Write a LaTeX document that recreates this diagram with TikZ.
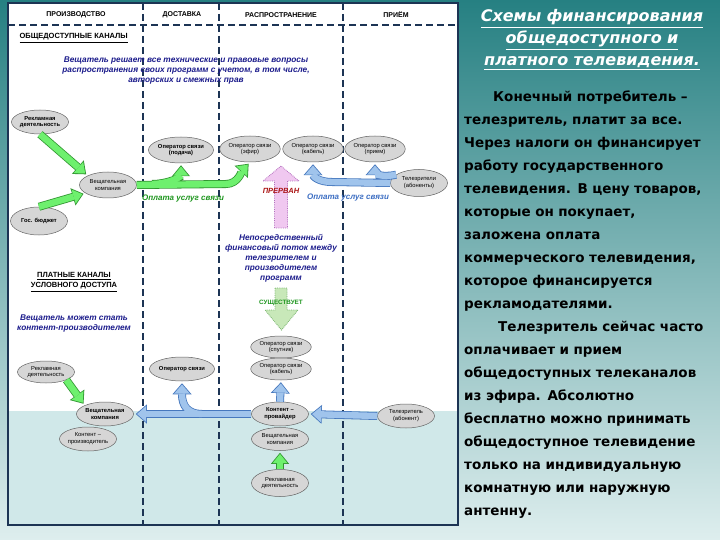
\documentclass[tikz,border=0pt]{standalone}
\usepackage{fontspec}
\setmainfont{Liberation Sans}
\newfontfamily\djv{DejaVu Sans}
\usetikzlibrary{arrows.meta,shapes.geometric,positioning}

\definecolor{frameblue}{RGB}{28,52,84}
\definecolor{ovalfill}{RGB}{214,214,214}
\definecolor{ovaldraw}{RGB}{100,100,100}
\definecolor{grnfill}{RGB}{110,240,110}
\definecolor{grndraw}{RGB}{50,150,50}
\definecolor{bluefill}{RGB}{160,196,236}
\definecolor{bluedraw}{RGB}{70,120,190}
\definecolor{navytext}{RGB}{28,28,140}
\definecolor{grntext}{RGB}{30,150,30}
\definecolor{bluetext}{RGB}{60,110,195}
\definecolor{redtext}{RGB}{170,20,20}
\definecolor{pinkfill}{RGB}{240,200,240}
\definecolor{pinkdraw}{RGB}{180,110,190}
\definecolor{lgfill}{RGB}{200,232,185}
\definecolor{lgdraw}{RGB}{120,180,110}
\definecolor{bandfill}{RGB}{208,232,233}
\definecolor{bgtop}{RGB}{38,128,130}
\definecolor{bgbot}{RGB}{222,238,238}

\newcommand\fullline[1]{\makebox[244pt][s]{#1}}

\tikzset{
  oval/.style={ellipse, draw=ovaldraw, fill=ovalfill, line width=0.5pt,
    minimum width=57pt, minimum height=24pt, inner sep=0pt, align=center,
    font=\fontsize{5.8}{6.8}\selectfont},
  boval/.style={oval, font=\bfseries\fontsize{5.8}{6.8}\selectfont},
  hdr/.style={font=\bfseries\fontsize{7}{8}\selectfont},
  sect/.style={align=center, font=\bfseries\fontsize{7.5}{10}\selectfont},
  note/.style={align=center, text=navytext,
    font=\bfseries\itshape\fontsize{8.3}{10}\selectfont},
  pay/.style={font=\bfseries\itshape\fontsize{8}{9}\selectfont},
  colline/.style={draw=frameblue, line width=1.1pt, dash pattern=on 7pt off 4pt},
  gout/.style={line width=8pt, draw=grndraw, shorten >=2pt,
    -{Triangle[width=18pt,length=11pt,line width=0pt]}},
  gin/.style={line width=6.4pt, draw=grnfill, shorten >=3.3pt,
    -{Triangle[width=14.7pt,length=9pt,line width=0pt]}},
  bout/.style={line width=8pt, draw=bluedraw, shorten >=2pt,
    -{Triangle[width=19pt,length=11pt,line width=0pt]}},
  bin/.style={line width=6.4pt, draw=bluefill, shorten >=3.3pt,
    -{Triangle[width=15.7pt,length=9pt,line width=0pt]}}
}

\begin{document}
\begin{tikzpicture}[x=1pt,y=-1pt]
  \useasboundingbox (0,0) rectangle (720,540);
  \shade[top color=bgtop, bottom color=bgbot] (0,0) rectangle (720,540);

  % diagram frame
  \fill[white] (8,3) rectangle (458,411);
  \fill[bandfill] (8,411) rectangle (458,525);
  \draw[colline] (8,25) -- (458,25);
  \draw[colline] (143,3) -- (143,525);
  \draw[colline] (219,3) -- (219,525);
  \draw[colline] (343,3) -- (343,525);
  \draw[frameblue, line width=1.6pt] (8,3) rectangle (458,525);

  \node[hdr] (prod) at (76,15) {ПРОИЗВОДСТВО};
  \node[hdr] (deliv) at (182,15) {ДОСТАВКА};
  \node[hdr] (distr) at (281,15) {РАСПРОСТРАНЕНИЕ};
  \node[hdr] (recv) at (396,15) {ПРИЁМ};

  \node[sect, anchor=west] (free) at (16,38) {\underline{ОБЩЕДОСТУПНЫЕ КАНАЛЫ}};
  \node[note] (notefree) at (186,71) {Вещатель решает все технические и правовые вопросы\\
    распространения своих программ с учетом, в том числе,\\авторских и смежных прав};

  % public channels
  \node[boval] (rek1) at (40,122) {Рекламная\\деятельность};
  \node[oval, minimum height=26pt] (vesh1) at (108,185) {Вещательная\\компания};
  \node[boval, minimum height=28pt] (budget) at (39,221) {Гос. бюджет};
  \node[boval, minimum height=26pt] (opPod) at (181,150) {Оператор связи\\(подача)};
  \node[oval, minimum height=26pt] (opEf) at (250,149) {Оператор связи\\(эфир)};
  \node[oval, minimum height=26pt] (opKab) at (313,149) {Оператор связи\\(кабель)};
  \node[oval, minimum height=26pt, minimum width=59pt] (opPri) at (375,149) {Оператор связи\\(прием)};
  \node[oval, minimum height=27pt] (zriteli) at (419,183) {Телезрители\\(абоненты)};

  \node[pay, text=grntext] (payGreen) at (183,199) {Оплата услуг связи};
  \node[pay, text=bluetext] (payBlue) at (348,198) {Оплата услуг связи};

  \coordinate (gfork) at (152,184);
  \draw[gout] (rek1.south) -- (vesh1.north west);
  \draw[gout] (budget.north) -- (vesh1.200);
  \draw[gout] (gfork) .. controls (168,184) and (181,177) .. (opPod.south);
  \draw[gout] (vesh1.east) -- (226,184) .. controls (238,184) and (242,171) .. (opEf.south);
  \draw[gin] (rek1.south) -- (vesh1.north west);
  \draw[gin] (budget.north) -- (vesh1.200);
  \draw[gin] (gfork) .. controls (168,184) and (181,177) .. (opPod.south);
  \draw[gin] (vesh1.east) -- (226,184) .. controls (238,184) and (242,171) .. (opEf.south);

  \draw[bout] (zriteli.west) -- (332,182) .. controls (318,182) and (313,176) .. (opKab.south);
  \draw[bout] (zriteli.160) .. controls (381,178) and (375,173) .. (opPri.south);
  \draw[bin] (zriteli.west) -- (332,182) .. controls (318,182) and (313,176) .. (opKab.south);
  \draw[bin] (zriteli.160) .. controls (381,178) and (375,173) .. (opPri.south);

  % interrupted flow
  \draw[pinkdraw, fill=pinkfill, densely dotted, line width=0.8pt]
    (274.5,228) -- (274.5,181) -- (263,181) -- (281,166) -- (299,181)
    -- (287.5,181) -- (287.5,228) -- cycle;
  \node[font=\bfseries\itshape\fontsize{7.5}{9}\selectfont, text=redtext] (cut) at (281,191) {ПРЕРВАН};
  \node[note] (notedirect) at (281,258) {Непосредственный\\финансовый поток между\\телезрителем и\\производителем\\программ};

  \draw[lgdraw, fill=lgfill, densely dotted, line width=0.8pt]
    (275,288) -- (275,310) -- (265,310) -- (281.5,330) -- (298,310)
    -- (287,310) -- (287,288) -- cycle;
  \node[font=\bfseries\fontsize{6.3}{8}\selectfont, text=grntext] (exists) at (281,303) {СУЩЕСТВУЕТ};

  % pay channels
  \node[sect] (paid) at (74,282) {\underline{ПЛАТНЫЕ КАНАЛЫ}\\\underline{УСЛОВНОГО ДОСТУПА}};
  \node[note] (notepaid) at (74,324) {Вещатель может стать\\контент-производителем};

  \node[oval, minimum height=22pt] (opSput) at (281,347) {Оператор связи\\(спутник)};
  \node[oval, minimum height=22pt] (opKab2) at (281,369) {Оператор связи\\(кабель)};
  \node[boval] (opSv) at (182,369) {Оператор связи};
  \node[oval, minimum height=22pt] (rek2) at (46,372) {Рекламная\\деятельность};
  \node[boval] (vesh2) at (105,414) {Вещательная\\компания};
  \node[oval] (kprod) at (88,439) {Контент –\\производитель};
  \node[boval] (kprov) at (280,414) {Контент –\\провайдер};
  \node[oval, minimum height=23pt] (vesh3) at (280,439) {Вещательная\\компания};
  \node[oval, minimum height=27pt] (rek3) at (280,483) {Рекламная\\деятельность};
  \node[oval] (zritel) at (406,416) {Телезритель\\(абонент)};

  \coordinate (bfork) at (202,414);
  \draw[gout] (rek2.south east) -- (vesh2.north west);
  \draw[gout] (rek3.north) -- (vesh3.south);
  \draw[gin] (rek2.south east) -- (vesh2.north west);
  \draw[gin] (rek3.north) -- (vesh3.south);

  \draw[bout] (zritel.west) -- (kprov.east);
  \draw[bout] (bfork) .. controls (188,414) and (182,406) .. (opSv.south);
  \draw[bout] (kprov.west) -- (vesh2.east);
  \draw[bout] (kprov.north) -- (opKab2.south);
  \draw[bin] (zritel.west) -- (kprov.east);
  \draw[bin] (bfork) .. controls (188,414) and (182,406) .. (opSv.south);
  \draw[bin] (kprov.west) -- (vesh2.east);
  \draw[bin] (kprov.north) -- (opKab2.south);

  % text panel
  \node[anchor=base, inner sep=0pt, text width=250pt, align=center, text=white,
    font=\djv\bfseries\itshape\fontsize{16}{22}\selectfont] (title) at (592,22)
    {\underline{Схемы финансирования}\\\underline{общедоступного и}\\\underline{платного телевидения.}};
  \node[anchor=base west, inner sep=0pt, text width=244pt,
    font=\djv\bfseries\fontsize{13.5}{23}\selectfont] (body) at (464,102) {%
    \hspace*{29pt}\makebox[215pt][s]{Конечный потребитель –}\\
    \fullline{телезритель, платит за все.}\\
    \fullline{Через налоги он финансирует}\\
    \fullline{работу государственного}\\
    \fullline{телевидения. В цену товаров,}\\
    \fullline{которые он покупает,}\\
    \fullline{заложена оплата}\\
    \fullline{коммерческого телевидения,}\\
    \fullline{которое финансируется}\\
    рекламодателями.\\
    \hspace*{34pt}\makebox[210pt][s]{Телезритель сейчас часто}\\
    \fullline{оплачивает и прием}\\
    \fullline{общедоступных телеканалов}\\
    \fullline{из эфира. Абсолютно}\\
    \fullline{бесплатно можно принимать}\\
    \fullline{общедоступное телевидение}\\
    \fullline{только на индивидуальную}\\
    \fullline{комнатную или наружную}\\
    антенну.};
\end{tikzpicture}
\end{document}
